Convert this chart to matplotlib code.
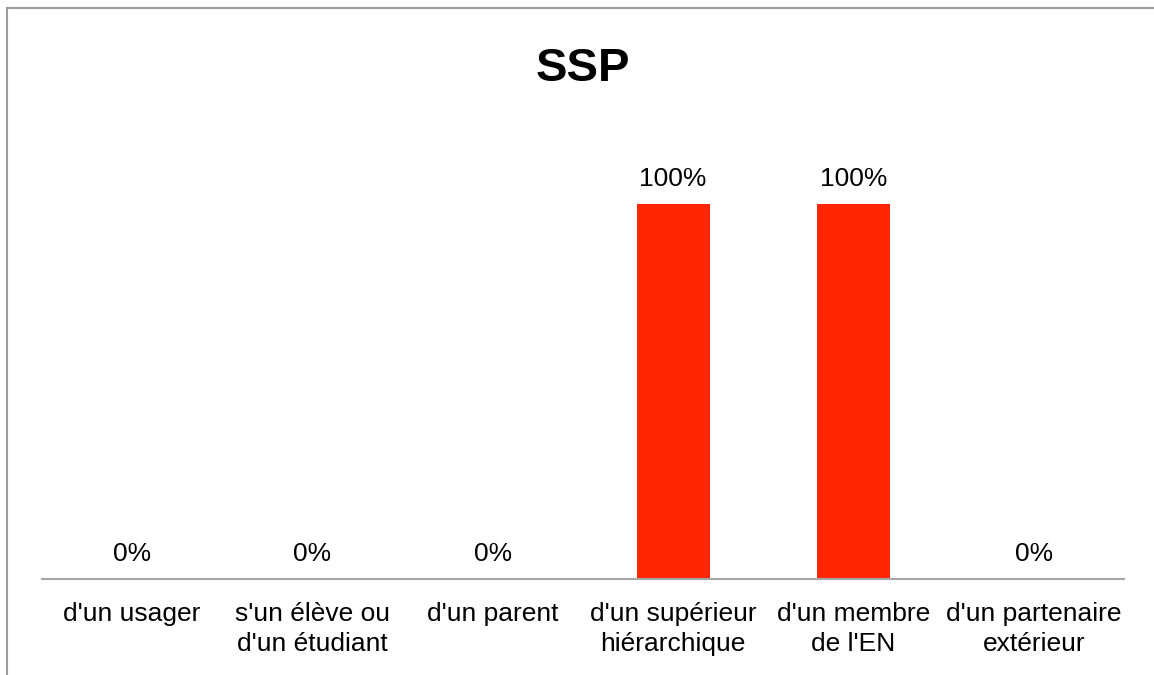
import matplotlib
matplotlib.use("Agg")
import matplotlib.pyplot as plt
from matplotlib.lines import Line2D

plt.rcParams['font.family'] = ['Liberation Sans', 'DejaVu Sans']

categories = ["d'un usager", "s'un élève ou\nd'un étudiant", "d'un parent",
              "d'un supérieur\nhiérarchique", "d'un membre\nde l'EN", "d'un partenaire\nextérieur"]
values = [0, 0, 0, 100, 100, 0]
labels = ["0%", "0%", "0%", "100%", "100%", "0%"]
title = "SSP"

W, H = 1154, 675
fig = plt.figure(figsize=(W / 100, H / 100), dpi=100)
x0, x1 = 42, 1124
yb, yt = 579, 129
ax = fig.add_axes([x0 / W, 1 - yb / H, (x1 - x0) / W, (yb - yt) / H])

xs = list(range(len(categories)))
ax.bar(xs, values, width=0.405, color="#FF2600")
ax.set_xlim(-0.5, len(categories) - 0.5)
ax.set_ylim(0, 100 * (yb - yt) / (yb - 204))
for x, v, l in zip(xs, values, labels):
    ax.annotate(l, (x, v), xytext=(0, 9.7), textcoords="offset points",
                ha="center", va="bottom", fontsize=19, color="#000000")

ax.set_xticks(xs)
ax.set_xticklabels(categories, fontsize=19, linespacing=1.31)
ax.tick_params(axis="x", length=0, pad=16.5)
ax.set_yticks([])
for s in ["top", "right", "left"]:
    ax.spines[s].set_visible(False)
ax.spines["bottom"].set_color("#A6A6A6")
ax.spines["bottom"].set_linewidth(1.5)

fig.text(583 / W, 1 - 81 / H, title, ha="center", va="baseline", fontsize=34, fontweight="bold")

# outer chart border (top and left)
fig.add_artist(Line2D([6.5 / W, 1], [1 - 7.5 / H, 1 - 7.5 / H], transform=fig.transFigure, color="#9E9E9E", lw=1.5))
fig.add_artist(Line2D([6.5 / W, 6.5 / W], [0, 1 - 7.5 / H], transform=fig.transFigure, color="#9E9E9E", lw=1.5))

fig.savefig("out.png", dpi=100, facecolor="white")
